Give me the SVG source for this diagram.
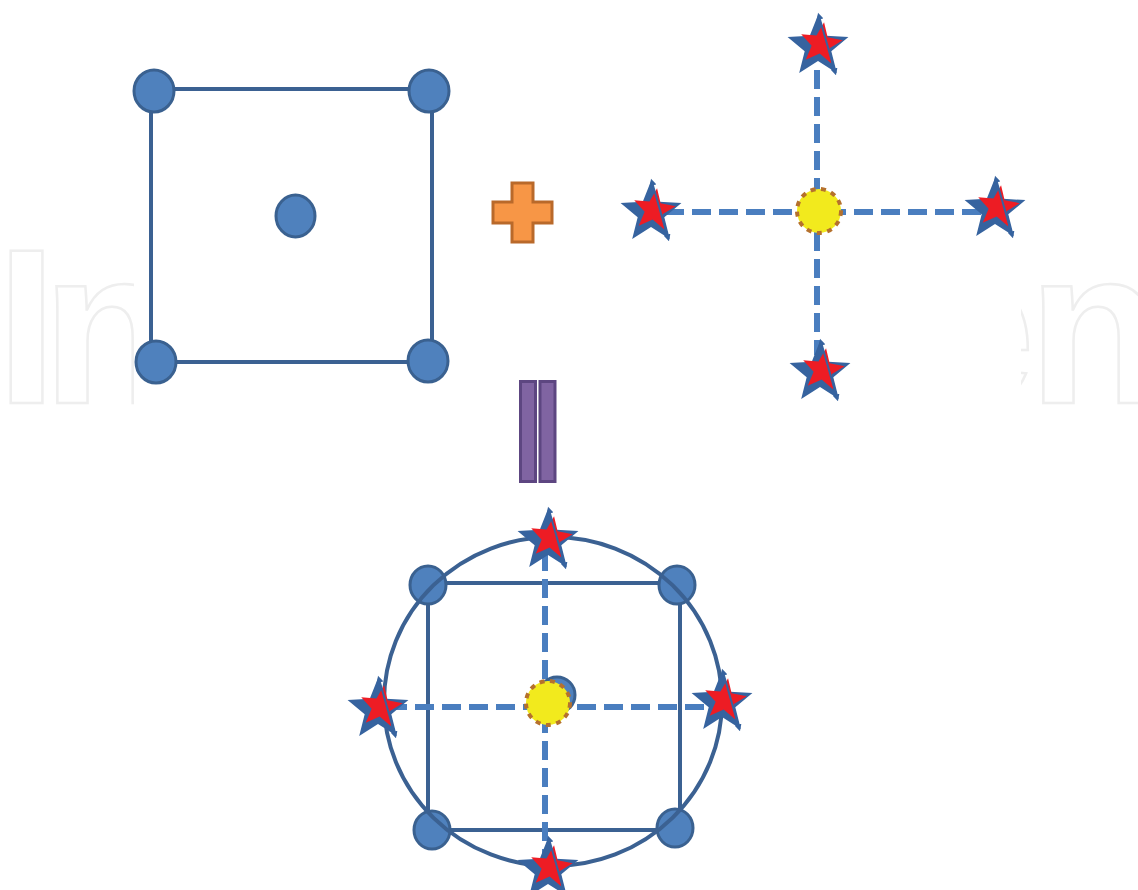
<svg xmlns="http://www.w3.org/2000/svg" xmlns:xlink="http://www.w3.org/1999/xlink" width="1138" height="890" viewBox="0 0 1138 890">
<style>
.wm{font-family:"Liberation Sans",Arial,sans-serif;font-weight:bold;font-size:220px;fill:#ffffff;stroke:#eeeeee;stroke-width:2.5}
.edge{fill:none;stroke:#3b6192;stroke-width:4}
.dash{fill:none;stroke:#4a7ebf;stroke-width:6;stroke-dasharray:19 8}
.dot{fill:#4f81bd;stroke:#3a6190;stroke-width:3}
.sun{fill:#f2ea1d;stroke:#b5712d;stroke-width:4;stroke-dasharray:5 5.5}
.ring{fill:none;stroke:#3b6192;stroke-width:4}
.plus{fill:#f79646;stroke:#b9692a;stroke-width:3}
.eq{fill:#8064a2;stroke:#5d4681;stroke-width:3}
</style>
<defs>
<clipPath id="wmclip"><rect x="0" y="230" width="134" height="190"/><rect x="1021" y="230" width="117" height="190"/></clipPath>
<marker id="tip" viewBox="0 0 10 10" refX="5" refY="5" markerWidth="7" markerHeight="7" markerUnits="userSpaceOnUse" orient="auto-start-reverse"><path d="M0,0 L10,5 L0,10 Z" fill="#36639f"/></marker>
<g id="star">
<polygon points="0,-32 8.23,-11.33 30.43,-9.89 13.31,4.33 18.81,25.89 0,14 -18.81,25.89 -13.31,4.33 -30.43,-9.89 -8.23,-11.33" fill="#36639f"/>
<polygon transform="translate(3,-3) rotate(8)" points="0,-22 5.6,-7.7 20.92,-6.8 9.04,2.94 12.93,17.8 0,9.5 -12.93,17.8 -9.04,2.94 -20.92,-6.8 -5.6,-7.7" fill="#ed1c24"/>
<line x1="1" y1="-31" x2="17" y2="25" stroke="#36639f" stroke-width="2" marker-start="url(#tip)" marker-end="url(#tip)"/>
</g>
</defs>
<rect width="1138" height="890" fill="#ffffff"/>
<g id="watermark" clip-path="url(#wmclip)">
<text class="wm" x="-4 42 200 300 420 530 660 790 913 1028" y="403">IntechOpen</text>
</g>
<g id="connectors">
<rect class="edge" x="151" y="89" width="281" height="273"/>
<line class="dash" x1="817" y1="70" x2="817" y2="355"/>
<line class="dash" x1="665" y1="212" x2="985" y2="212"/>
<rect class="edge" x="428" y="583" width="252" height="247"/>
<line class="dash" x1="545" y1="525" x2="545" y2="860"/>
<line class="dash" x1="388" y1="707" x2="718" y2="707"/>
</g>
<g id="node-a-tl"><ellipse class="dot" cx="154" cy="91" rx="20" ry="21"/></g>
<g id="node-a-tr"><ellipse class="dot" cx="429" cy="91" rx="20" ry="21"/></g>
<g id="node-a-bl"><ellipse class="dot" cx="156" cy="362" rx="20" ry="21"/></g>
<g id="node-a-br"><ellipse class="dot" cx="428" cy="361" rx="20" ry="21"/></g>
<g id="node-a-c"><ellipse class="dot" cx="295.5" cy="216" rx="19.5" ry="21"/></g>
<g id="node-plus"><path class="plus" d="M512,183 H533 V202 H552 V223 H533 V242 H512 V223 H493 V202 H512 Z"/></g>
<g id="node-equals"><rect class="eq" x="520.5" y="381.5" width="15" height="100"/><rect class="eq" x="540" y="381.5" width="15" height="100"/></g>
<g id="node-b-c"><circle class="sun" cx="819" cy="211" r="22"/></g>
<g id="node-b-t"><use xlink:href="#star" href="#star" transform="translate(818,47)"/></g>
<g id="node-b-l"><use xlink:href="#star" href="#star" transform="translate(651,213)"/></g>
<g id="node-b-r"><use xlink:href="#star" href="#star" transform="translate(995,210)"/></g>
<g id="node-b-b"><use xlink:href="#star" href="#star" transform="translate(820,373)"/></g>
<g id="node-c-tl"><ellipse class="dot" cx="428" cy="585" rx="18" ry="19"/></g>
<g id="node-c-tr"><ellipse class="dot" cx="677" cy="585" rx="18" ry="19"/></g>
<g id="node-c-bl"><ellipse class="dot" cx="432" cy="830" rx="18" ry="19"/></g>
<g id="node-c-br"><ellipse class="dot" cx="675" cy="828" rx="18" ry="19"/></g>
<g id="node-ring"><ellipse class="ring" cx="553" cy="701.5" rx="169" ry="164.5"/></g>
<g id="node-c-dot"><circle class="dot" cx="557" cy="695" r="18"/></g>
<g id="node-c-c"><circle class="sun" cx="548" cy="703" r="22"/></g>
<g id="node-c-t"><use xlink:href="#star" href="#star" transform="translate(548,541)"/></g>
<g id="node-c-l"><use xlink:href="#star" href="#star" transform="translate(378,710)"/></g>
<g id="node-c-r"><use xlink:href="#star" href="#star" transform="translate(722,703)"/></g>
<g id="node-c-b"><use xlink:href="#star" href="#star" transform="translate(548,870)"/></g>
</svg>
